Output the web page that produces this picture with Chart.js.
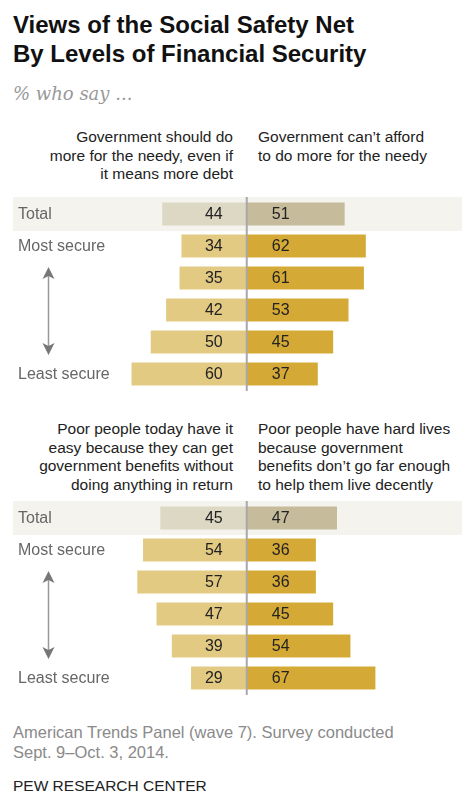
<!DOCTYPE html>
<html>
<head>
<meta charset="utf-8">
<script src="https://cdn.jsdelivr.net/npm/chart.js@4.4.1/dist/chart.umd.min.js"></script>
<style>
  body { margin: 0; background: #fff; width: 462px; height: 811px; position: relative; overflow: hidden; font-family: "Liberation Sans", Arial, sans-serif; }
  .t { position: absolute; white-space: nowrap; }
  #title { left: 13px; top: 10px; font-size: 24px; line-height: 29px; font-weight: bold; color: #111; }
  #sub { left: 13px; top: 83px; font-family: "DejaVu Serif", serif; font-style: italic; font-size: 18px; line-height: 22px; color: #999; }
  .hl { right: 229px; text-align: right; font-size: 15.5px; color: #222; }
  .hr { left: 258px; text-align: left; font-size: 15.5px; color: #222; }
  #h1l, #h1r { top: 128px; line-height: 18.5px; }
  #h2l, #h2r { top: 420px; line-height: 18.7px; }
  #note { left: 13px; top: 722px; font-size: 16.5px; line-height: 20px; color: #8a8a8a; }
  #src { left: 13px; top: 777px; font-size: 15.5px; color: #222; }
  canvas { position: absolute; left: 0; }
  #c1 { top: 196px; }
  #c2 { top: 500px; }
</style>
</head>
<body>
<div class="t" id="title">Views of the Social Safety Net<br>By Levels of Financial Security</div>
<div class="t" id="sub">% who say ...</div>
<div class="t hl" id="h1l">Government should do<br>more for the needy, even if<br>it means more debt</div>
<div class="t hr" id="h1r">Government can’t afford<br>to do more for the needy</div>
<div class="t hl" id="h2l">Poor people today have it<br>easy because they can get<br>government benefits without<br>doing anything in return</div>
<div class="t hr" id="h2r">Poor people have hard lives<br>because government<br>benefits don’t go far enough<br>to help them live decently</div>
<canvas id="c1" width="462" height="196"></canvas>
<canvas id="c2" width="462" height="196"></canvas>
<div class="t" id="note">American Trends Panel (wave 7). Survey conducted<br>Sept. 9–Oct. 3, 2014.</div>
<div class="t" id="src">PEW RESEARCH CENTER</div>
<script>
// rows, top to bottom
const rowLabels = ['Total', 'Most secure', '', '', '', 'Least secure'];

// panel 1: more for needy vs can't afford
const moreForNeedy = [44, 34, 35, 42, 50, 60];
const cantAfford = [51, 62, 61, 53, 45, 37];

// panel 2: poor have it easy vs poor have hard lives
const haveItEasy = [45, 54, 57, 47, 39, 29];
const hardLives = [47, 36, 36, 45, 54, 67];

const LEFT_TOTAL = '#dcd8c3', RIGHT_TOTAL = '#c6bc9c';
const LEFT_GOLD = '#e3ca82', RIGHT_GOLD = '#d4a935';

const rowsPlugin = {
    id: 'rows',
    beforeDatasetsDraw(chart) {
        const ctx = chart.ctx, y = chart.scales.y;
        const yt = y.getPixelForValue(0);
        ctx.save();
        ctx.fillStyle = '#f4f3ee';
        ctx.fillRect(13, yt - 17, chart.width - 13, 34);
        ctx.restore();
    },
    afterDatasetsDraw(chart) {
        const ctx = chart.ctx, x = chart.scales.x, y = chart.scales.y;
        const x0 = x.getPixelForValue(0);
        const yt = y.getPixelForValue(0);
        ctx.save();
        // center line
        ctx.strokeStyle = '#a8a8a8';
        ctx.lineWidth = 2;
        ctx.beginPath();
        ctx.moveTo(x0, yt - 17);
        ctx.lineTo(x0, chart.chartArea.bottom + 1);
        ctx.stroke();

        // values
        ctx.font = '16px "Liberation Sans", Arial, sans-serif';
        ctx.fillStyle = '#222';
        ctx.textBaseline = 'middle';
        const left = chart.data.datasets[0].data, right = chart.data.datasets[1].data;
        left.forEach((v, i) => {
            const py = y.getPixelForValue(i) + 1;
            ctx.textAlign = 'right';
            ctx.fillText(String(-v), x0 - 24, py);
            ctx.textAlign = 'left';
            ctx.fillText(String(right[i]), x0 + 25, py);
        });

        // row labels
        ctx.fillStyle = '#666';
        ctx.textAlign = 'left';
        rowLabels.forEach((l, i) => {
            if (l) ctx.fillText(l, 18, y.getPixelForValue(i) + 1);
        });

        // double arrow
        const ax = 48.5;
        const top = y.getPixelForValue(1) + 21, bot = y.getPixelForValue(5) - 19;
        ctx.strokeStyle = '#999';
        ctx.lineWidth = 1.5;
        ctx.beginPath();
        ctx.moveTo(ax, top + 8);
        ctx.lineTo(ax, bot - 8);
        ctx.stroke();
        ctx.fillStyle = '#777';
        ctx.beginPath();
        ctx.moveTo(ax, top); ctx.lineTo(ax - 6, top + 12); ctx.lineTo(ax, top + 9); ctx.lineTo(ax + 6, top + 12); ctx.closePath();
        ctx.fill();
        ctx.beginPath();
        ctx.moveTo(ax, bot); ctx.lineTo(ax - 6, bot - 12); ctx.lineTo(ax, bot - 9); ctx.lineTo(ax + 6, bot - 12); ctx.closePath();
        ctx.fill();
        ctx.restore();
    }
};

function makeChart(id, leftVals, rightVals) {
    new Chart(document.getElementById(id), {
        type: 'bar',
        data: {
            labels: rowLabels,
            datasets: [{
                data: leftVals.map(v => -v),
                backgroundColor: leftVals.map((v, i) => i === 0 ? LEFT_TOTAL : LEFT_GOLD),
                barPercentage: 0.72,
                categoryPercentage: 1
            }, {
                data: rightVals,
                backgroundColor: rightVals.map((v, i) => i === 0 ? RIGHT_TOTAL : RIGHT_GOLD),
                barPercentage: 0.72,
                categoryPercentage: 1
            }]
        },
        options: {
            indexAxis: 'y',
            responsive: false,
            animation: false,
            layout: { padding: { top: 2, bottom: 2, left: 0, right: 0 } },
            plugins: { legend: { display: false }, tooltip: { enabled: false } },
            scales: {
                x: { display: false, stacked: true, min: -128.5, max: 112.1 },
                y: { display: false, stacked: true }
            }
        },
        plugins: [rowsPlugin]
    });
}

makeChart('c1', moreForNeedy, cantAfford);
makeChart('c2', haveItEasy, hardLives);
</script>
</body>
</html>
